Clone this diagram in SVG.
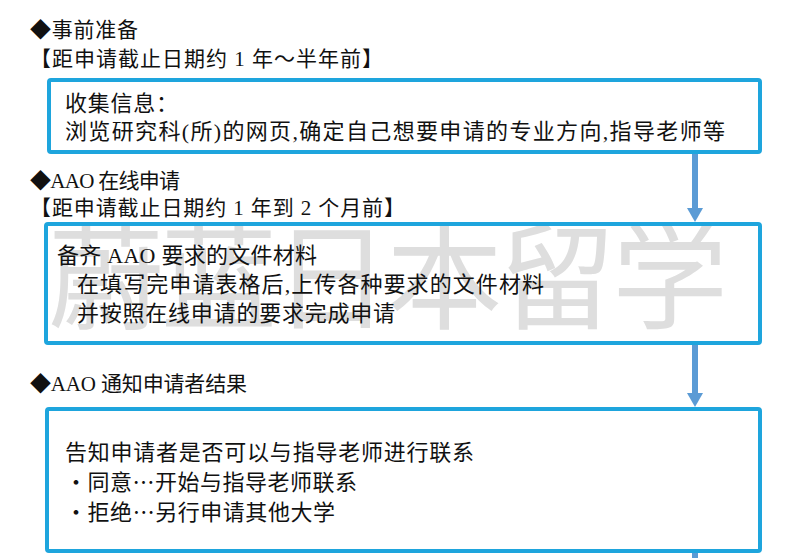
<svg xmlns="http://www.w3.org/2000/svg" width="794" height="558" viewBox="0 0 794 558">
<defs>
<style>
.t{font-family:"Liberation Serif","Noto Sans CJK SC",serif;fill:#111;}
.h{font-size:21px;}
.b{font-size:22px;}
.cjk{font-family:"Noto Sans CJK SC",sans-serif;}
.box{fill:#fff;stroke:#1ea5dd;stroke-width:4;}
.con{stroke:#5b9bd5;stroke-width:6;fill:none;}
.wm{font-family:"Noto Sans CJK SC",sans-serif;font-size:116px;fill:#dedede;}
</style>
<marker id="ah" viewBox="0 0 14 16" refX="0" refY="8" markerWidth="14" markerHeight="16" markerUnits="userSpaceOnUse" orient="auto">
<path d="M0,0 L14,8 L0,16 z" fill="#5b9bd5"/>
</marker>
<clipPath id="c2"><rect x="48" y="226" width="710" height="115"/></clipPath>
</defs>
<rect width="794" height="558" fill="#fff"/>

<g id="heading1">
<text class="t h" x="30" y="37" textLength="108">◆事前准备</text>
<text class="t h" x="30" y="66" textLength="353">【距申请截止日期约 1 年～半年前】</text>
</g>

<g id="node1">
<rect class="box" x="49" y="80" width="711" height="72" rx="2"/>
<text class="t b" x="65" y="111" textLength="113">收集信息：</text>
<text class="t b" x="65" y="139" textLength="660">浏览研究科(所)的网页,确定自己想要申请的专业方向,指导老师等</text>
</g>

<g id="heading2">
<text class="t h" x="30" y="188" textLength="150">◆AAO 在线申请</text>
<text class="t h" x="30" y="215" textLength="375">【距申请截止日期约 1 年到 2 个月前】</text>
</g>

<g id="node2">
<rect class="box" x="46" y="224" width="714" height="119" rx="2"/>
<text class="wm" x="48" y="320" textLength="680" clip-path="url(#c2)">蔚蓝日本留学</text>
<text class="t b" x="57" y="263" textLength="260">备齐 AAO 要求的文件材料</text>
<text class="t b" x="77" y="292" textLength="467">在填写完申请表格后,上传各种要求的文件材料</text>
<text class="t b" x="77" y="321" textLength="318">并按照在线申请的要求完成申请</text>
</g>

<g id="heading3">
<text class="t h" x="30" y="391" textLength="217">◆AAO 通知申请者结果</text>
</g>

<g id="node3">
<rect class="box" x="47" y="409" width="713" height="142" rx="2"/>
<text class="t b" x="65" y="460" textLength="409">告知申请者是否可以与指导老师进行联系</text>
<text class="t b" x="65" y="490" textLength="292">・同意<tspan class="cjk">…</tspan>开始与指导老师联系</text>
<text class="t b" x="65" y="520" textLength="270">・拒绝<tspan class="cjk">…</tspan>另行申请其他大学</text>
</g>

<g id="connectors">
<line class="con" x1="695" y1="154" x2="695" y2="208" marker-end="url(#ah)"/>
<line class="con" x1="695" y1="345" x2="695" y2="393" marker-end="url(#ah)"/>
<line class="con" x1="695" y1="553" x2="695" y2="560"/>
</g>
</svg>
